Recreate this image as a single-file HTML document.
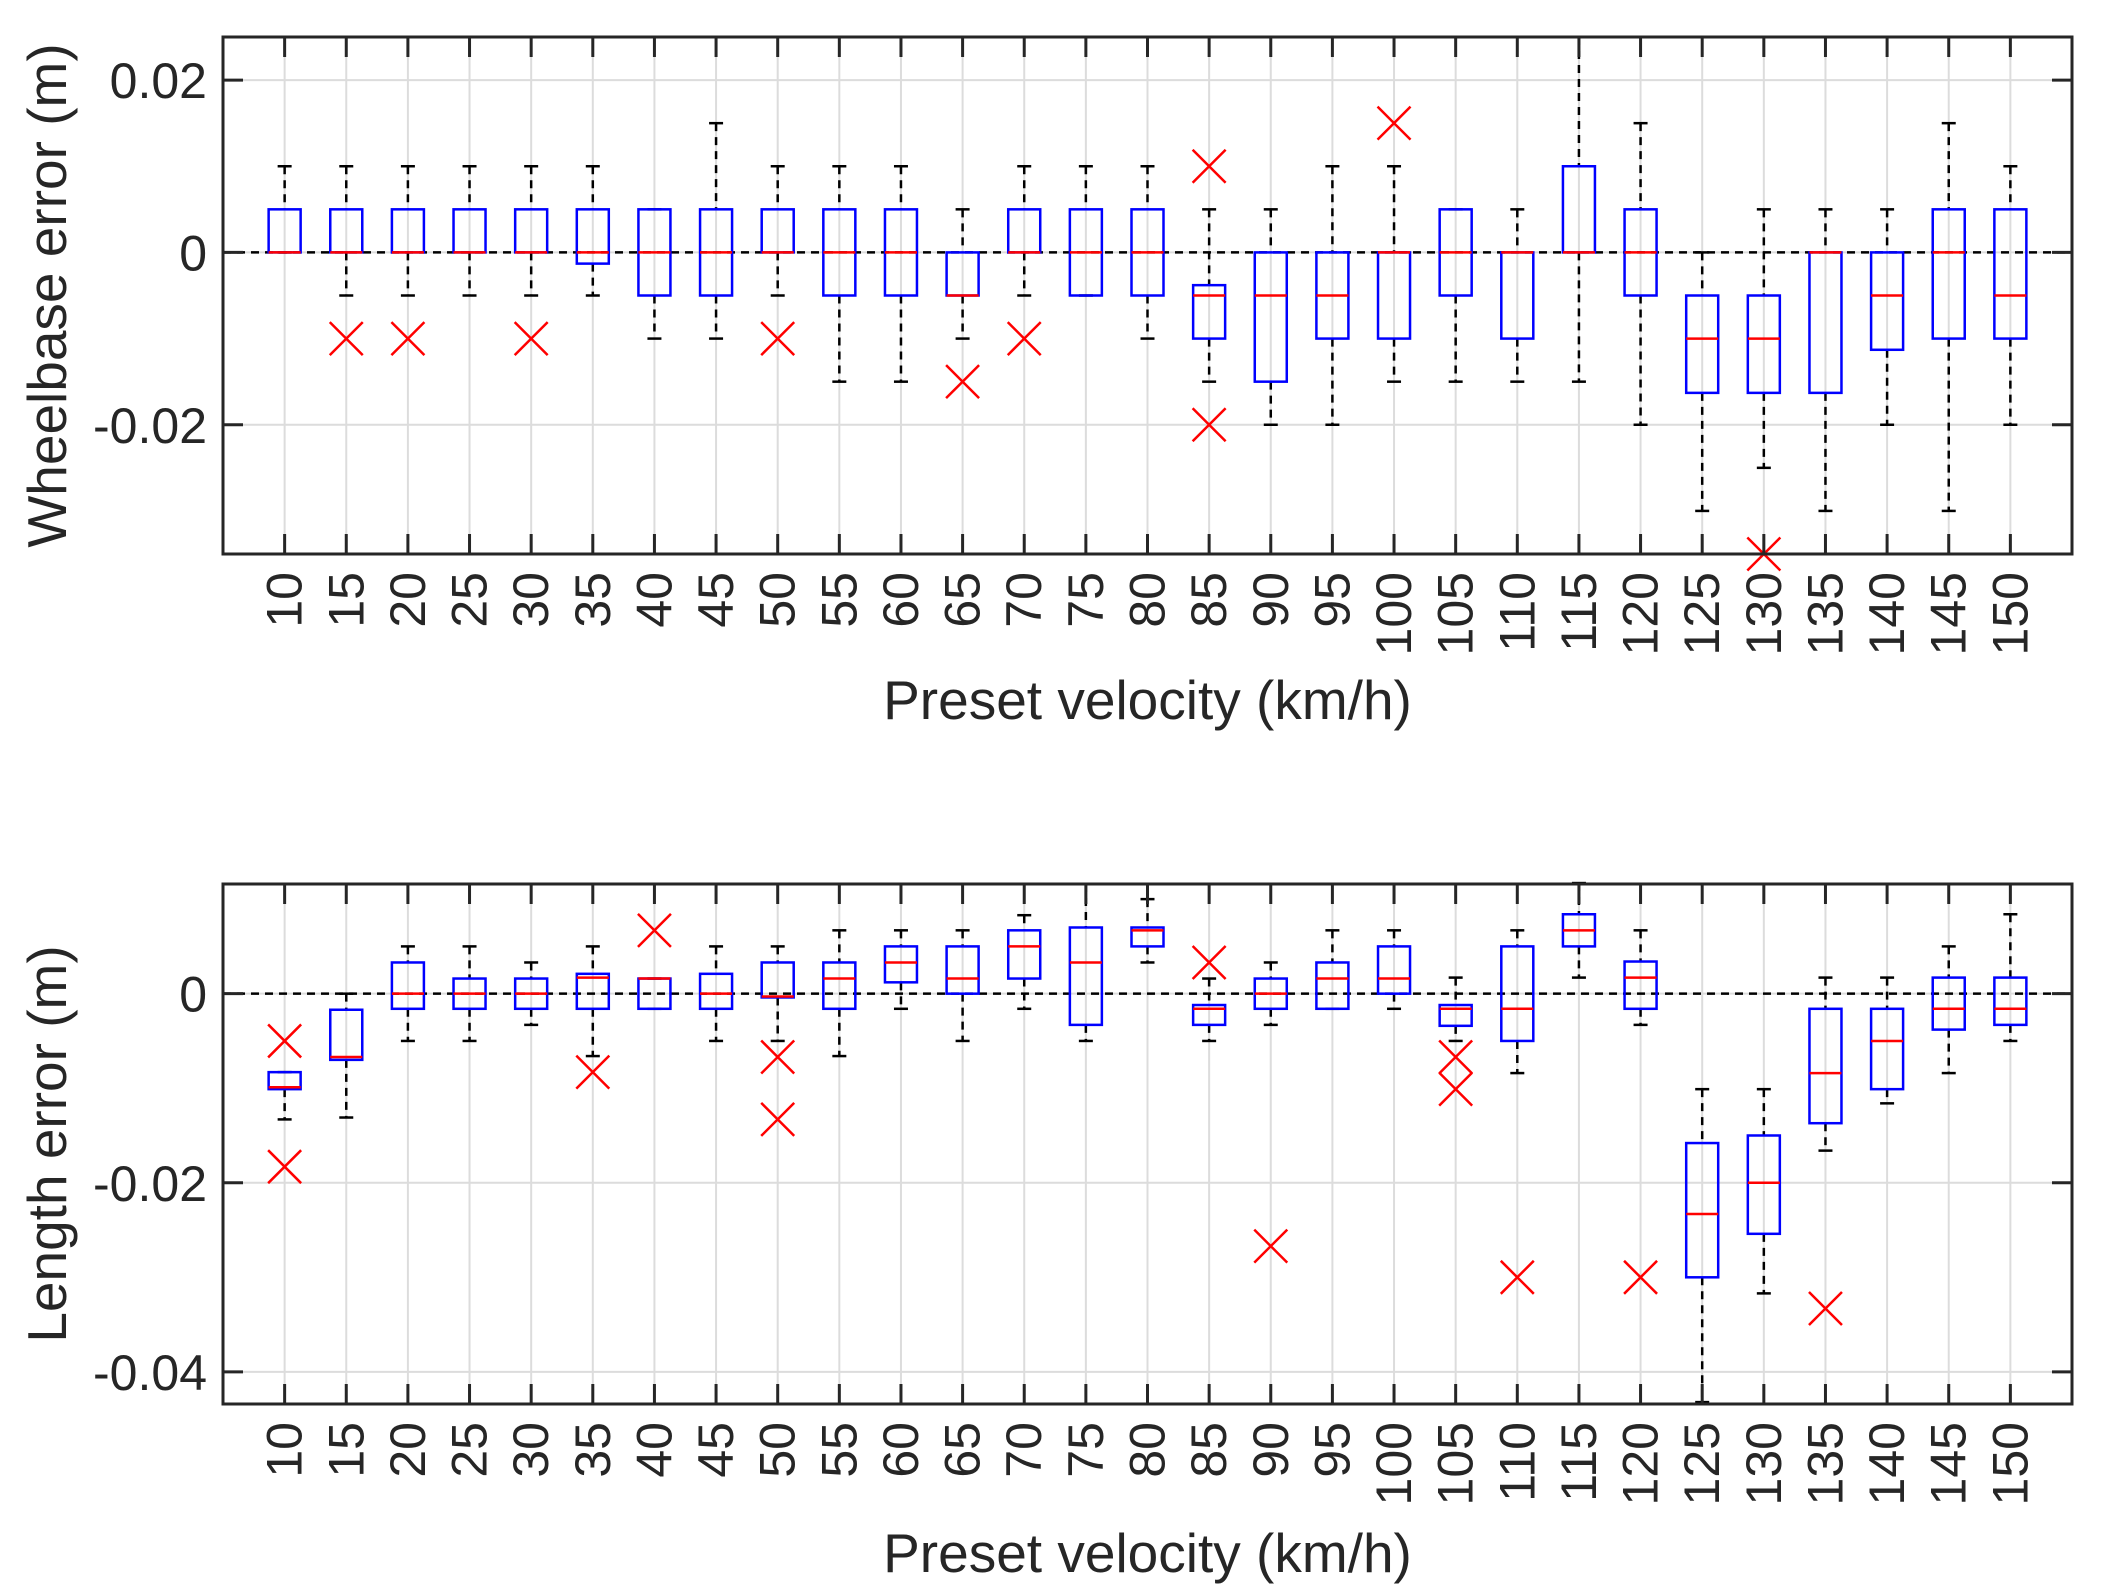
<!DOCTYPE html>
<html><head><meta charset="utf-8"><style>
html,body{margin:0;padding:0;background:#fff;}
svg{display:block;font-family:"Liberation Sans",Arial,sans-serif;}
</style></head><body>
<svg id="chart" width="2113" height="1586" viewBox="0 0 2113 1586" xmlns="http://www.w3.org/2000/svg"></svg>
<script>
const categories = [10,15,20,25,30,35,40,45,50,55,60,65,70,75,80,85,90,95,100,105,110,115,120,125,130,135,140,145,150];
// Top: wheelbase error (m) — [whiskerLow, q1, median, q3, whiskerHigh]
const wbLow  = [0,-0.005,-0.005,-0.005,-0.005,-0.005,-0.01,-0.01,-0.005,-0.015,-0.015,-0.01,-0.005,-0.005,-0.01,-0.015,-0.02,-0.02,-0.015,-0.015,-0.015,-0.015,-0.02,-0.03,-0.025,-0.03,-0.02,-0.03,-0.02];
const wbQ1   = [0,0,0,0,0,-0.0013,-0.005,-0.005,0,-0.005,-0.005,-0.005,0,-0.005,-0.005,-0.01,-0.015,-0.01,-0.01,-0.005,-0.01,0,-0.005,-0.0163,-0.0163,-0.0163,-0.0113,-0.01,-0.01];
const wbMed  = [0,0,0,0,0,0,0,0,0,0,0,-0.005,0,0,0,-0.005,-0.005,-0.005,0,0,0,0,0,-0.01,-0.01,0,-0.005,0,-0.005];
const wbQ3   = [0.005,0.005,0.005,0.005,0.005,0.005,0.005,0.005,0.005,0.005,0.005,0,0.005,0.005,0.005,-0.0038,0,0,0,0.005,0,0.01,0.005,-0.005,-0.005,0,0,0.005,0.005];
const wbHigh = [0.01,0.01,0.01,0.01,0.01,0.01,0.005,0.015,0.01,0.01,0.01,0.005,0.01,0.01,0.01,0.005,0.005,0.01,0.01,0.005,0.005,0.025,0.015,0,0.005,0.005,0.005,0.015,0.01];
const wbOutCat = [15,20,30,50,65,70,85,85,100,130];
const wbOutVal = [-0.01,-0.01,-0.01,-0.01,-0.015,-0.01,0.01,-0.02,0.015,-0.035];
const wbTicks = [0.02,0,-0.02];
const wbTickLabels = ["0.02","0","-0.02"];
// Bottom: length error (m)
const lnLow  = [-0.0133,-0.0131,-0.005,-0.005,-0.0033,-0.0066,-0.0016,-0.005,-0.005,-0.0066,-0.0016,-0.005,-0.0016,-0.005,0.0033,-0.005,-0.0033,-0.0016,-0.0016,-0.005,-0.0084,0.0017,-0.0033,-0.0432,-0.0317,-0.0166,-0.0116,-0.0084,-0.005];
const lnQ1   = [-0.0101,-0.007,-0.0016,-0.0016,-0.0016,-0.0016,-0.0016,-0.0016,-0.0004,-0.0016,0.0012,0,0.0016,-0.0033,0.005,-0.0033,-0.0016,-0.0016,0,-0.0034,-0.005,0.005,-0.0016,-0.030,-0.0254,-0.0137,-0.0101,-0.0038,-0.0033];
const lnMed  = [-0.0099,-0.0067,0,0,0,0.0017,0.0016,0,-0.0003,0.0016,0.0033,0.0016,0.005,0.0033,0.0067,-0.0016,0,0.0016,0.0016,-0.0016,-0.0016,0.0067,0.0017,-0.0233,-0.02,-0.0084,-0.005,-0.0016,-0.0016];
const lnQ3   = [-0.0083,-0.0017,0.0033,0.0016,0.0016,0.0021,0.0016,0.0021,0.0033,0.0033,0.005,0.005,0.0067,0.007,0.007,-0.0012,0.0016,0.0033,0.005,-0.0012,0.005,0.0084,0.0034,-0.0158,-0.015,-0.0016,-0.0016,0.0017,0.0017];
const lnHigh = [-0.0083,0,0.005,0.005,0.0033,0.005,0.0016,0.005,0.005,0.0067,0.0067,0.0067,0.0083,0.0116,0.01,0.0016,0.0033,0.0067,0.0067,0.0017,0.0067,0.0117,0.0067,-0.0101,-0.0101,0.0017,0.0017,0.005,0.0084];
const lnOutCat = [10,10,35,40,50,50,85,90,105,105,110,120,135];
const lnOutVal = [-0.005,-0.0183,-0.0083,0.0067,-0.0067,-0.0133,0.0033,-0.0267,-0.0067,-0.0101,-0.030,-0.030,-0.0333];
const lnTicks = [0,-0.02,-0.04];
const lnTickLabels = ["0","-0.02","-0.04"];

const NS="http://www.w3.org/2000/svg";
const svg=document.getElementById('chart');
function mk(tag,attrs,parent){const e=document.createElementNS(NS,tag);for(const k in attrs)e.setAttribute(k,attrs[k]);(parent||svg).appendChild(e);return e;}

function drawPanel(p){
  const g=mk('g',{});
  
  
  const L=223,R=2072,T=p.top,B=p.bottom;
  const xs=i=>L+(R-L)*(i+1)/30;
  const ys=v=>T+(p.ymax-v)/(p.ymax-p.ymin)*(B-T);
  // grid
  categories.forEach((c,i)=>{
    const gl=mk('line',{x1:xs(i),x2:xs(i),y1:T,y2:B,stroke:'#dcdcdc','stroke-width':2},g);
    
    
  });
  p.ticks.forEach(t=>{
    const gl=mk('line',{x1:L,x2:R,y1:ys(t),y2:ys(t),stroke:'#dcdcdc','stroke-width':2},g);
    
    
  });
  // zero dashed line
  const z=mk('line',{x1:L,x2:R,y1:ys(0),y2:ys(0),stroke:'#000','stroke-width':2.5,'stroke-dasharray':'8 6'},g);
  
  
  // boxes
  categories.forEach((c,i)=>{
    const bg=mk('g',{},g);
    
    
    const x=xs(i),hw=16,cw=7;
    const lo=p.low[i],q1=p.q1[i],md=p.med[i],q3=p.q3[i],hi=p.high[i];
    if(hi>q3){
      mk('line',{x1:x,x2:x,y1:ys(hi),y2:ys(q3),stroke:'#000','stroke-width':2.5,'stroke-dasharray':'8 6'},bg);
    }
    mk('line',{x1:x-cw,x2:x+cw,y1:ys(hi),y2:ys(hi),stroke:'#000','stroke-width':2.5},bg);
    if(lo<q1){
      mk('line',{x1:x,x2:x,y1:ys(q1),y2:ys(lo),stroke:'#000','stroke-width':2.5,'stroke-dasharray':'8 6'},bg);
    }
    mk('line',{x1:x-cw,x2:x+cw,y1:ys(lo),y2:ys(lo),stroke:'#000','stroke-width':2.5},bg);
    mk('rect',{x:x-hw,y:ys(q3),width:2*hw,height:Math.max(ys(q1)-ys(q3),0.5),fill:'none',stroke:'#0000ff','stroke-width':2.5},bg);
    mk('line',{x1:x-hw,x2:x+hw,y1:ys(md),y2:ys(md),stroke:'#ff0000','stroke-width':2.5},bg);
  });
  // outliers
  p.outCat.forEach((c,k)=>{
    const i=categories.indexOf(c);const x=xs(i),y=ys(p.outVal[k]),s=16.5;
    const o=mk('path',{d:`M${x-s},${y-s}L${x+s},${y+s}M${x-s},${y+s}L${x+s},${y-s}`,stroke:'#ff0000','stroke-width':2.5,fill:'none'},g);
    
    
  });
  // axes box
  const ax=mk('rect',{x:L,y:T,width:R-L,height:B-T,fill:'none',stroke:'#262626','stroke-width':3},g);
  
  
  // ticks
  categories.forEach((c,i)=>{
    const x=xs(i);
    mk('line',{x1:x,x2:x,y1:B,y2:B-20,stroke:'#262626','stroke-width':3},g);
    mk('line',{x1:x,x2:x,y1:T,y2:T+20,stroke:'#262626','stroke-width':3},g);
    const t=mk('text',{x:0,y:0,transform:`translate(${x+17},${B+18}) rotate(-90)`,'text-anchor':'end','font-size':50,fill:'#262626'},g);
    t.textContent=c;
    
    
  });
  p.ticks.forEach((v,k)=>{
    const y=ys(v);
    mk('line',{x1:L,x2:L+20,y1:y,y2:y,stroke:'#262626','stroke-width':3},g);
    mk('line',{x1:R,x2:R-20,y1:y,y2:y,stroke:'#262626','stroke-width':3},g);
    const t=mk('text',{x:L-16,y:y+18,'text-anchor':'end','font-size':50,fill:'#262626'},g);
    t.textContent=p.tickLabels[k];
    
    
  });
  const xt=mk('text',{x:(L+R)/2,y:p.xTitleY,'text-anchor':'middle','font-size':55,fill:'#262626'},g);
  xt.textContent='Preset velocity (km/h)';
  
  
  const yt=mk('text',{x:0,y:0,transform:`translate(66,${(T+B)/2}) rotate(-90)`,'text-anchor':'middle','font-size':55,fill:'#262626'},g);
  yt.textContent=p.ytitle;
  
  
}
drawPanel({name:'wheelbase-error-panel',top:37,bottom:554,ymax:0.025,ymin:-0.035,low:wbLow,q1:wbQ1,med:wbMed,q3:wbQ3,high:wbHigh,outCat:wbOutCat,outVal:wbOutVal,ticks:wbTicks,tickLabels:wbTickLabels,ytitle:'Wheelbase error (m)',xTitleY:719});
drawPanel({name:'length-error-panel',top:884,bottom:1404,ymax:0.0116,ymin:-0.0434,low:lnLow,q1:lnQ1,med:lnMed,q3:lnQ3,high:lnHigh,outCat:lnOutCat,outVal:lnOutVal,ticks:lnTicks,tickLabels:lnTickLabels,ytitle:'Length error (m)',xTitleY:1572});
</script>
</body></html>
